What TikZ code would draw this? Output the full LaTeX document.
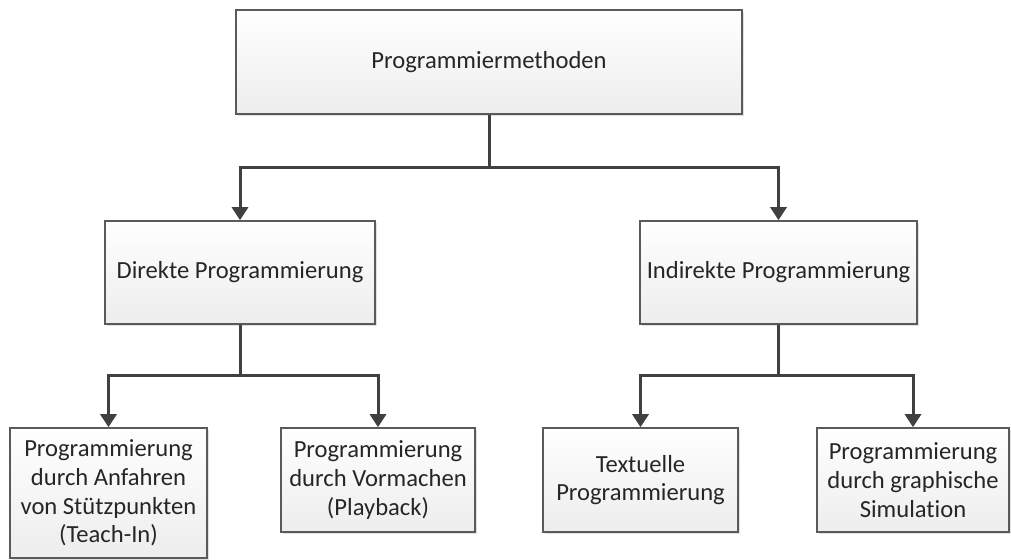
\documentclass[tikz,border=0pt]{standalone}
\usepackage{fontspec}
\setmainfont{Carlito}[Ligatures=NoCommon]
\usetikzlibrary{arrows.meta,shadows}
\definecolor{boxline}{HTML}{5A5A5A}
\definecolor{connline}{HTML}{404040}
\tikzset{every shadow/.style={fill=black!20,opacity=0.6,shadow xshift=1.2pt,shadow yshift=-1.2pt}}
\tikzset{pbox/.style={draw=boxline,line width=0.8pt,top color=white,bottom color=black!7,
  drop shadow,align=center,inner sep=2pt,text=black!85,
  font=\fontsize{12.3}{14.4}\selectfont}}
\tikzset{conn/.style={draw=connline,line width=1.5pt}}
\tikzset{arr/.style={conn,-{Triangle[width=8pt,length=6.5pt]}}}

\begin{document}
\begin{tikzpicture}[x=0.5pt,y=-0.5pt]
\useasboundingbox (0,0) rectangle (1011,559);
% \draw[help lines] (0,0) grid (1011,559);
\node (p0) [pbox,minimum width=253pt,minimum height=52pt] at (489,62) {Programmiermethoden};
\node (p1) [pbox,minimum width=135pt,minimum height=51.5pt] at (240,272.5) {Direkte Programmierung};
\node (p2) [pbox,minimum width=138.5pt,minimum height=51.5pt] at (778.5,272.5) {Indirekte Programmierung};
%
\node (p11) [pbox,minimum width=98.5pt,minimum height=65pt] at (108.5,493)
  {Programmierung\\durch Anfahren\\von Stützpunkten\\(Teach-In)};
\node (p12) [pbox,minimum width=97pt,minimum height=52pt] at (378,480)
  {Programmierung\\durch Vormachen\\(Playback)};
\node (p21) [pbox,minimum width=97.5pt,minimum height=52pt] at (640.5,480)
  {Textuelle\\Programmierung};
\node (p22) [pbox,minimum width=96pt,minimum height=52pt] at (913,480)
  {Programmierung\\durch graphische\\Simulation};
%
\coordinate (j0) at (489,167);
\coordinate (j1) at (240,375);
\coordinate (j2) at (778.5,375);
%
\draw[conn] (p0.south) -- (j0);
\draw[arr] (j0) -| (p1.north);
\draw[arr] (j0) -| (p2.north);
\draw[conn] (p1.south) -- (j1);
\draw[arr] (j1) -| (p11.north);
\draw[arr] (j1) -| (p12.north);
\draw[conn] (p2.south) -- (j2);
\draw[arr] (j2) -| (p21.north);
\draw[arr] (j2) -| (p22.north);
%
\end{tikzpicture}
\end{document}
